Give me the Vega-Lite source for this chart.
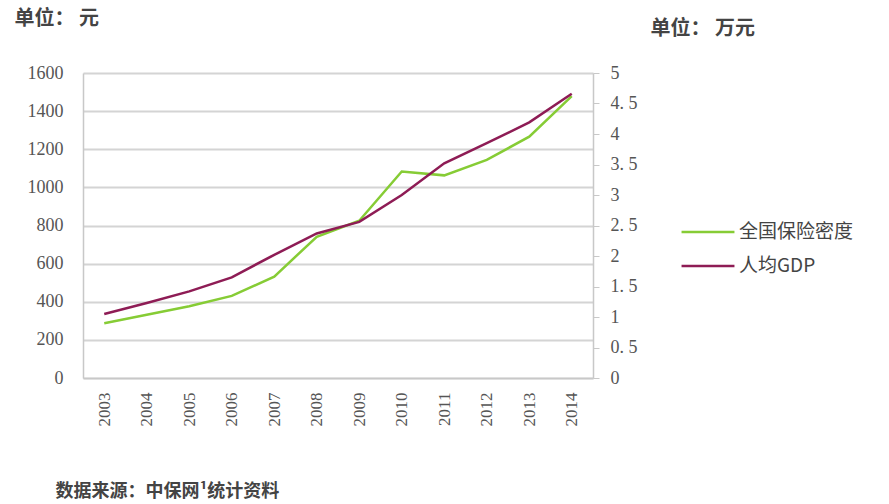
{
  "$schema": "https://vega.github.io/schema/vega-lite/v6.json",
  "autosize": {"type": "none"},
  "width": 510,
  "height": 305,
  "padding": {"left": 83, "top": 73, "right": 296, "bottom": 126},
  "background": "white",
  "config": {
    "view": {"stroke": null},
    "axis": {"labelFont": "Liberation Serif", "labelFontSize": 17, "labelColor": "#555555", "domainColor": "#c8c8c8", "domainWidth": 1.5, "gridColor": "#d4d4d4", "gridWidth": 2, "tickColor": "#c8c8c8", "titleFont": "Noto Sans CJK SC", "titleFontWeight": "bold", "titleColor": "#444444", "titleFontSize": 20},
    "legend": {"labelFont": "Noto Sans CJK SC", "labelFontSize": 19, "labelColor": "#444444"}
  },
  "data": {"values": [
    {"year": "2003", "density": 287, "gdp": 1.05},
    {"year": "2004", "density": 332, "gdp": 1.23},
    {"year": "2005", "density": 376, "gdp": 1.42},
    {"year": "2006", "density": 431, "gdp": 1.65},
    {"year": "2007", "density": 532, "gdp": 2.02},
    {"year": "2008", "density": 741, "gdp": 2.37},
    {"year": "2009", "density": 825, "gdp": 2.56},
    {"year": "2010", "density": 1083, "gdp": 3.0},
    {"year": "2011", "density": 1063, "gdp": 3.52},
    {"year": "2012", "density": 1144, "gdp": 3.85},
    {"year": "2013", "density": 1266, "gdp": 4.19},
    {"year": "2014", "density": 1479, "gdp": 4.66}
  ]},
  "encoding": {
    "x": {"field": "year", "type": "ordinal",
      "axis": {"labelAngle": -90, "labelAlign": "right", "labelBaseline": "middle", "labelPadding": 14, "ticks": false,
        "title": "数据来源：中保网¹统计资料", "titleFontSize": 18, "titleAnchor": "start", "titleAlign": "left", "titleBaseline": "middle", "titleX": -28, "titleY": 113, "titleAngle": 0}}
  },
  "layer": [
    {
      "mark": {"type": "line", "strokeWidth": 2.5},
      "encoding": {
        "y": {"field": "density", "type": "quantitative", "scale": {"domain": [0, 1600]},
          "axis": {"values": [0,200,400,600,800,1000,1200,1400,1600], "format": "d", "labelFontSize": 18, "ticks": false, "labelPadding": 20, "grid": true,
            "title": "单位： 元", "titleAngle": 0, "titleAlign": "left", "titleBaseline": "middle", "titleX": -69, "titleY": -55}},
        "color": {"datum": "全国保险密度", "type": "nominal",
          "scale": {"domain": ["全国保险密度", "人均GDP"], "range": ["#86cc35", "#8e1c55"]},
          "legend": {"title": null, "orient": "none", "legendX": 597, "legendY": 149, "symbolType": "stroke", "symbolSize": 2800, "symbolStrokeWidth": 2.5, "clipHeight": 20, "rowPadding": 14, "labelOffset": 3}}
      }
    },
    {
      "mark": {"type": "line", "strokeWidth": 2.5},
      "encoding": {
        "y": {"field": "gdp", "type": "quantitative", "scale": {"domain": [0, 5]},
          "axis": {"orient": "right", "values": [0,0.5,1,1.5,2,2.5,3,3.5,4,4.5,5], "format": "~g", "labelExpr": "replace(datum.label, '.', '. ')", "labelFontSize": 18, "tickSize": 6, "labelPadding": 11, "grid": false,
            "title": "单位： 万元", "titleAngle": 0, "titleAlign": "left", "titleBaseline": "middle", "titleX": 57, "titleY": -45}},
        "color": {"datum": "人均GDP", "type": "nominal"}
      }
    }
  ],
  "resolve": {"scale": {"y": "independent"}}
}
